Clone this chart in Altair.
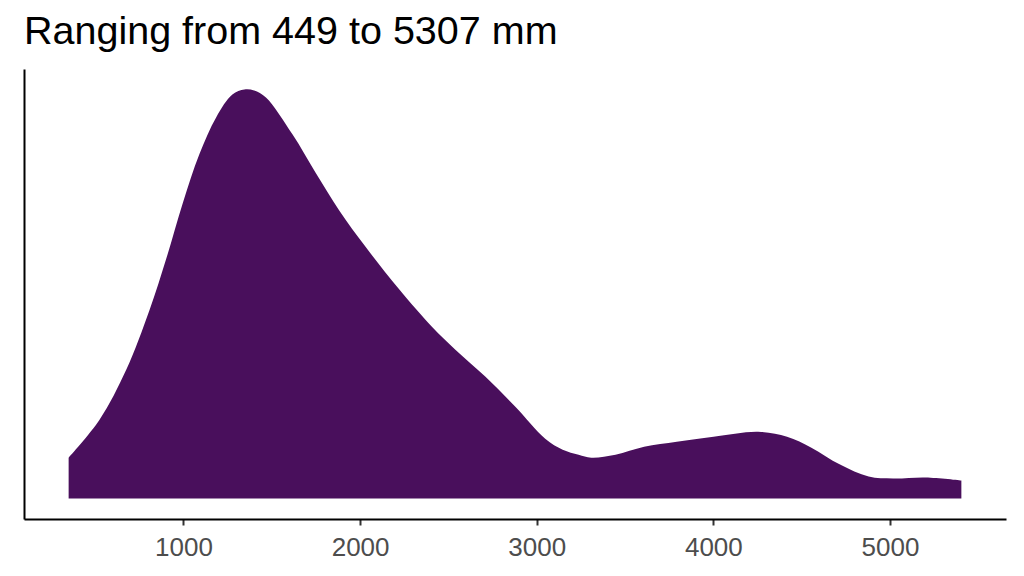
import altair as alt
import pandas as pd

# Density curve of rainfall values (mm) (relative density units)
rain_mm = [350, 525, 676, 808, 902, 996, 1090, 1185, 1277, 1345, 1400, 1467, 1617, 1750,
           1881, 2032, 2220, 2408, 2541, 2710, 2879, 3048, 3147, 3237, 3309, 3446, 3608,
           3793, 4001, 4254, 4417, 4555, 4717, 4879, 5017, 5202, 5404]
density = [41, 79, 129, 189, 240, 296, 345, 382, 405, 410, 409, 402, 365, 326,
           289, 252, 210, 172, 149, 122, 92, 60, 49, 44, 41, 44, 52,
           57, 62, 67, 62, 51, 34, 22, 20, 21, 18]
x_ticks = [1000, 2000, 3000, 4000, 5000]
title_text = "Ranging from 449 to 5307 mm"

df = pd.DataFrame({"rain": rain_mm, "density": density})

ymax = max(density)
x_lo, x_hi = min(rain_mm), max(rain_mm)
x_pad = 0.05 * (x_hi - x_lo)

chart = (
    alt.Chart(df)
    .mark_area(color="#490F5C", interpolate="catmull-rom")
    .encode(
        x=alt.X(
            "rain:Q",
            scale=alt.Scale(domain=[x_lo - x_pad, x_hi + x_pad], nice=False, zero=False),
            axis=alt.Axis(
                values=x_ticks, format="d", title=None, grid=False,
                domainColor="black", domainWidth=2,
                tickColor="#333333", tickWidth=2, tickSize=6,
                labelColor="#4D4D4D", labelFontSize=26, labelFont="Liberation Sans",
                labelPadding=9,
            ),
        ),
        y=alt.Y(
            "density:Q",
            scale=alt.Scale(domain=[-0.05 * ymax, 1.05 * ymax], nice=False, zero=False),
            axis=alt.Axis(
                title=None, grid=False, labels=False, ticks=False,
                domainColor="black", domainWidth=2,
            ),
        ),
        y2=alt.datum(0),
    )
    .properties(
        width=982,
        height=450,
        background="white",
        autosize=alt.AutoSizeParams(type="none"),
        padding={"left": 16, "top": 61, "right": 10, "bottom": 57},
        title=alt.TitleParams(
            text=title_text, anchor="start", frame="group", orient="top",
            font="Liberation Sans", fontSize=39.5, fontWeight="normal", color="black",
            offset=17,
        ),
    )
    .configure_view(strokeWidth=0, stroke=None)
)

chart.save("out.html", embed_options={"renderer": "svg", "actions": False})
